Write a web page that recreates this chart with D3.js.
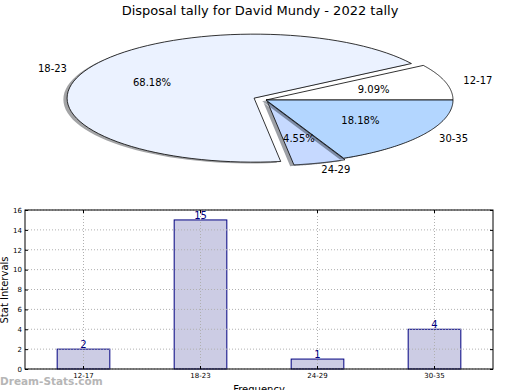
<!DOCTYPE html>
<html><head><meta charset="utf-8">
<script src="https://cdn.jsdelivr.net/npm/d3@7"></script>
<style>body{margin:0;background:#fff}svg{display:block;font-family:"DejaVu Sans",sans-serif}</style>
</head><body><svg id="c" width="520" height="390"></svg>
<script>
const categories = ["12-17", "18-23", "24-29", "30-35"];
const counts = [2, 15, 1, 4];
const pieColors = ["#ffffff", "#ebf2ff", "#c6d9ff", "#b3d6ff"];
const explode = [0, 0.07, 0.025, 0];
const yTicks = [0, 2, 4, 6, 8, 10, 12, 14, 16];
const titleText = "Disposal tally for David Mundy - 2022 tally";

const svg = d3.select("#c");
svg.append("rect").attr("width",520).attr("height",390).attr("fill","#fff");

svg.append("text").attr("x",260).attr("y",15).attr("text-anchor","middle")
  .attr("font-size",13).text(titleText);

// ---- Pie (elliptical, matplotlib-style) ----
const px = d3.scaleLinear().domain([-1,1]).range([79,453]);
const py = d3.scaleLinear().domain([-1,1]).range([164,36]);
const total = d3.sum(counts);
const arcs = d3.pie().sort(null).startAngle(0).endAngle(2*Math.PI)(counts);
const line = d3.line().x(d=>px(d[0])).y(d=>py(d[1]));
const pieG = svg.append("g");
function wedgePts(a, ox, oy){
  const pts=[[ox,oy]];
  const n=80;
  for(let i=0;i<=n;i++){const t=a.startAngle+(a.endAngle-a.startAngle)*i/n; pts.push([ox+Math.cos(t), oy+Math.sin(t)]);}
  return pts;
}
arcs.forEach((a,i)=>{
  const mid=(a.startAngle+a.endAngle)/2;
  const ox=explode[i]*Math.cos(mid), oy=explode[i]*Math.sin(mid);
  const c=d3.rgb(pieColors[i]);
  pieG.append("path").attr("d", line(wedgePts(a, ox-0.02, oy-0.02))+"Z")
    .attr("fill", d3.rgb(c.r*0.3,c.g*0.3,c.b*0.3)).attr("fill-opacity",0.5);
  pieG.append("path").attr("d", line(wedgePts(a, ox, oy))+"Z")
    .attr("fill", pieColors[i]).attr("stroke","#000").attr("stroke-width",0.8).attr("stroke-linejoin","round");
});
arcs.forEach((a,i)=>{
  const mid=(a.startAngle+a.endAngle)/2;
  const ox=explode[i]*Math.cos(mid), oy=explode[i]*Math.sin(mid);
  const lx=ox+1.1*Math.cos(mid), ly=oy+1.1*Math.sin(mid);
  pieG.append("text").attr("x",px(lx)-(i===2?4:0)).attr("y",py(ly)).attr("dy","0.35em")
    .attr("text-anchor", lx>0?"start":"end").attr("font-size",10).text(categories[i]);
  const tx=ox+0.6*Math.cos(mid), ty=oy+0.6*Math.sin(mid);
  pieG.append("text").attr("x",px(tx)).attr("y",py(ty)).attr("dy","0.35em")
    .attr("text-anchor","middle").attr("font-size",10)
    .text((counts[i]/total*100).toFixed(2)+"%");
});

// ---- Bar chart ----
const L=25,R=493,T=210,B=369;
const x = d3.scaleBand().domain(categories).range([L,R]).paddingInner(0.55).paddingOuter(0.275);
const y = d3.scaleLinear().domain([0,16]).range([B,T]);
const g = svg.append("g");
// bars
g.selectAll(".bar").data(counts).enter().append("rect")
  .attr("x",(d,i)=>x(categories[i])).attr("width",x.bandwidth())
  .attr("y",d=>y(d)).attr("height",d=>B-y(d))
  .attr("fill","#ccccE4").attr("stroke","#000080").attr("stroke-width",1);
// grid (on top, as matplotlib)
g.selectAll(".vg").data(categories).enter().append("line")
  .attr("x1",d=>x(d)+x.bandwidth()/2).attr("x2",d=>x(d)+x.bandwidth()/2).attr("y1",T).attr("y2",B)
  .attr("stroke","#b0b0b0").attr("stroke-width",1).attr("stroke-dasharray","1,2");
g.selectAll(".hg").data(yTicks).enter().append("line")
  .attr("x1",L).attr("x2",R).attr("y1",d=>y(d)).attr("y2",d=>y(d))
  .attr("stroke","#b0b0b0").attr("stroke-width",1).attr("stroke-dasharray","1,2");
// value labels
g.selectAll(".vl").data(counts).enter().append("text")
  .attr("x",(d,i)=>x(categories[i])+x.bandwidth()/2).attr("y",d=>y(d)-1)
  .attr("text-anchor","middle").attr("font-size",10).attr("fill","#000080").text(d=>d);
// frame
g.append("rect").attr("x",L).attr("y",T).attr("width",R-L).attr("height",B-T)
  .attr("fill","none").attr("stroke","#000").attr("stroke-width",1);
// axes
const yAxis = d3.axisLeft(y).tickValues(yTicks).tickSize(-3).tickPadding(3);
g.append("g").attr("transform",`translate(${L},0)`).call(yAxis)
  .call(s=>s.select(".domain").remove())
  .call(s=>s.selectAll("text").attr("font-size",7).attr("font-family","DejaVu Sans"));
const yAxisR = d3.axisRight(y).tickValues(yTicks).tickSize(-3).tickFormat("");
g.append("g").attr("transform",`translate(${R},0)`).call(yAxisR).call(s=>s.select(".domain").remove());
const xAxis = d3.axisBottom(x).tickSize(-3).tickPadding(4);
g.append("g").attr("transform",`translate(0,${B})`).call(xAxis)
  .call(s=>s.select(".domain").remove())
  .call(s=>s.selectAll("text").attr("font-size",7).attr("font-family","DejaVu Sans"));
const xAxisT = d3.axisTop(x).tickSize(-3).tickFormat("");
g.append("g").attr("transform",`translate(0,${T})`).call(xAxisT).call(s=>s.select(".domain").remove());

svg.append("text").attr("transform","translate(8,290) rotate(-90)").attr("text-anchor","middle")
  .attr("font-size",10).text("Stat Intervals");
svg.append("text").attr("x",259).attr("y",393).attr("text-anchor","middle")
  .attr("font-size",10).text("Frequency");
svg.append("text").attr("x",0).attr("y",385).attr("font-size",10.5).attr("font-weight","bold")
  .attr("fill","#aaaaaa").attr("opacity",0.85).text("Dream-Stats.com");
</script></body></html>
